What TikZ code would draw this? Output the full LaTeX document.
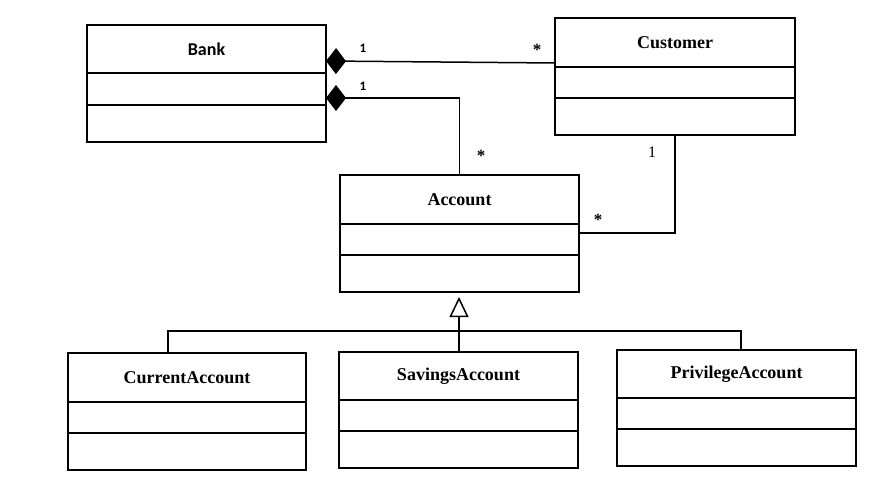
\documentclass[tikz,border=0pt]{standalone}
\usepackage{fontspec}
\setmainfont{Liberation Serif}
\newfontfamily\calfont{Carlito}
\usetikzlibrary{arrows.meta,calc}
\tikzset{
  comp/.style={draw, line width=1.6pt, rectangle, inner sep=0pt, outer sep=0pt, anchor=north, font=\bfseries\fontsize{18}{20}\selectfont},
  conn/.style={line width=1.5pt},
  mult/.style={inner sep=0pt, font=\bfseries\fontsize{17}{18}\selectfont},
  multc/.style={inner sep=0pt, font=\calfont\bfseries\fontsize{13}{14}\selectfont},
}
\begin{document}
\begin{tikzpicture}[x=1pt,y=-1pt]
\useasboundingbox (0,0) rectangle (886,492);
% Bank
\node[comp, minimum width=239pt, minimum height=48pt, font=\calfont\bfseries\fontsize{18}{20}\selectfont] (bankT) at (206.5,25) {Bank};
\node[comp, minimum width=239pt, minimum height=32pt] (bankA) at (bankT.south) {};
\node[comp, minimum width=239pt, minimum height=37pt] (bankO) at (bankA.south) {};
% Customer
\node[comp, minimum width=240pt, minimum height=49pt] (custT) at (675,18) {Customer};
\node[comp, minimum width=240pt, minimum height=31pt] (custA) at (custT.south) {};
\node[comp, minimum width=240pt, minimum height=37pt] (custO) at (custA.south) {};
% Account
\node[comp, minimum width=239pt, minimum height=49pt] (accT) at (459.5,175) {Account};
\node[comp, minimum width=239pt, minimum height=31pt] (accA) at (accT.south) {};
\node[comp, minimum width=239pt, minimum height=37pt] (accO) at (accA.south) {};
% CurrentAccount
\node[comp, minimum width=238pt, minimum height=49pt] (curT) at (187,353) {CurrentAccount};
\node[comp, minimum width=238pt, minimum height=31pt] (curA) at (curT.south) {};
\node[comp, minimum width=238pt, minimum height=37pt] (curO) at (curA.south) {};
% SavingsAccount
\node[comp, minimum width=239pt, minimum height=48pt] (savT) at (458.5,352) {SavingsAccount};
\node[comp, minimum width=239pt, minimum height=31pt] (savA) at (savT.south) {};
\node[comp, minimum width=239pt, minimum height=37pt] (savO) at (savA.south) {};
% PrivilegeAccount
\node[comp, minimum width=239pt, minimum height=48pt] (privT) at (736.5,350) {PrivilegeAccount};
\node[comp, minimum width=239pt, minimum height=31pt] (privA) at (privT.south) {};
\node[comp, minimum width=239pt, minimum height=37pt] (privO) at (privA.south) {};
% Bank -- Customer
\draw[conn, {Diamond[length=20pt,width=26pt]}-] ([yshift=-12pt]bankT.east) -- ([yshift=-20.5pt]custT.west);
% Bank -- Account
\draw[conn, {Diamond[length=20pt,width=26pt]}-] ([yshift=-9pt]bankA.east) -| (accT.north);
% Customer -- Account
\draw[conn] (custO.south) |- ([yshift=6.5pt]accA.east);
% generalization
\coordinate (tri) at ($(accO.south)+(-0.5,5)$);
\coordinate (bar) at (459,331);
\draw[conn, {Triangle[open,length=20pt,width=19pt,line width=1.5pt]}-] (tri) -- (tri |- savT.north);
\draw[conn] ([xshift=-19pt]curT.north) |- (bar) -| ([xshift=4.5pt]privT.north);
% multiplicities
\node[multc] (m1) at (363,48) {1};
\node[mult] (m2) at (537,50) {*};
\node[multc] (m3) at (363,86) {1};
\node[mult] (m4) at (481,156) {*};
\node[mult, font=\fontsize{16}{17}\selectfont] (m5) at (652,152) {1};
\node[mult] (m6) at (598,220) {*};
\end{tikzpicture}
\end{document}
